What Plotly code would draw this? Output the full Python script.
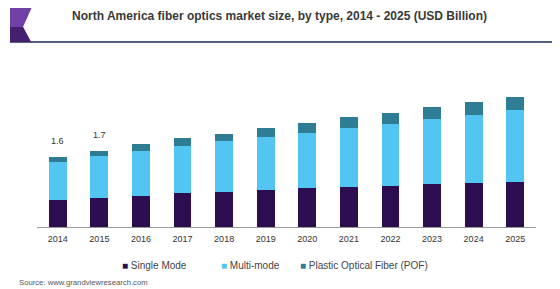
import plotly.graph_objects as go

years = ["2014", "2015", "2016", "2017", "2018", "2019", "2020", "2021", "2022", "2023", "2024", "2025"]
single_mode = [0.60, 0.64, 0.70, 0.75, 0.78, 0.82, 0.86, 0.90, 0.92, 0.95, 0.97, 1.01]
multi_mode = [0.84, 0.93, 0.99, 1.04, 1.13, 1.18, 1.22, 1.30, 1.38, 1.44, 1.53, 1.58]
pof = [0.11, 0.13, 0.15, 0.18, 0.16, 0.20, 0.24, 0.24, 0.24, 0.27, 0.27, 0.31]
label_years = ["2014", "2015"]
label_texts = ["1.6", "1.7"]

series_names = ["Single Mode", "Multi-mode", "Plastic Optical Fiber (POF)"]
colors = ["#2b0d50", "#52c5f2", "#2e7d94"]

# page has an 8px body margin; figure is sized/positioned to compensate
OFF = 8
W, H = 560 - OFF, 289 - OFF
plot_left, plot_right, plot_top, plot_bottom = 37, 536, 60, 227
ML = plot_left - OFF
MR = (W + OFF) - plot_right
MT = plot_top - OFF
MB = (H + OFF) - plot_bottom
plot_w = plot_right - plot_left
plot_h = plot_bottom - plot_top
y_max = plot_h / 45.0

fig = go.Figure()
for name, vals, col in zip(series_names, [single_mode, multi_mode, pof], colors):
    fig.add_trace(go.Bar(x=years, y=vals, name=name, marker=dict(color=col, line=dict(width=0)),
                         showlegend=False))

totals = [s + m + p for s, m, p in zip(single_mode, multi_mode, pof)]
annotations = []
for yr, txt in zip(label_years, label_texts):
    i = years.index(yr)
    annotations.append(dict(xref="x", yref="y", x=i, y=totals[i], text=txt, showarrow=False, yshift=16,
                            font=dict(family="Liberation Sans, Arial", size=9, color="#333333")))

def px_x(p):
    return (p - plot_left) / plot_w

def px_y(p):
    return (plot_bottom - p) / plot_h

# title
annotations.append(dict(xref="paper", yref="paper", x=px_x(279), y=px_y(16), xanchor="center", yanchor="middle",
                        text="<b>North America fiber optics market size, by type, 2014 - 2025 (USD Billion)</b>",
                        showarrow=False, font=dict(family="Liberation Sans, Arial", size=12, color="#3a3a3a")))
# manual legend
legend_pos = [120, 219, 298]
for x0, name, col in zip(legend_pos, series_names, colors):
    annotations.append(dict(xref="paper", yref="paper", x=px_x(x0), y=px_y(265), xanchor="left", yanchor="middle",
                            text='<span style="color:%s">■</span> %s' % (col, name), showarrow=False,
                            font=dict(family="Liberation Sans, Arial", size=10, color="#444444")))
# source
annotations.append(dict(xref="paper", yref="paper", x=px_x(17), y=px_y(282), xanchor="left", yanchor="middle",
                        text="Source: www.grandviewresearch.com", showarrow=False,
                        font=dict(family="Liberation Sans, Arial", size=7.7, color="#555555")))

logo = "M %f,%f L %f,%f L %f,%f L %f,%f L %f,%f Z" % (
    px_x(10), px_y(7), px_x(32), px_y(7), px_x(23), px_y(27), px_x(31), px_y(42), px_x(10), px_y(42))
logo_low = "M %f,%f L %f,%f L %f,%f L %f,%f Z" % (
    px_x(10), px_y(27), px_x(23), px_y(27), px_x(31), px_y(42), px_x(10), px_y(42))
shapes = [
    dict(type="line", xref="paper", yref="paper", x0=px_x(10), x1=px_x(560), y0=px_y(42), y1=px_y(42),
         line=dict(color="#55607f", width=2)),
    dict(type="path", xref="paper", yref="paper", path=logo, fillcolor="#7040a8", line=dict(width=0)),
    dict(type="path", xref="paper", yref="paper", path=logo_low, fillcolor="#45206f", line=dict(width=0)),
]

fig.update_layout(
    width=W, height=H, barmode="stack", bargap=0.57,
    margin=dict(l=ML, r=MR, t=MT, b=MB),
    paper_bgcolor="white", plot_bgcolor="white",
    xaxis=dict(type="category", range=[-0.5, len(years) - 0.5], autorange=False,
               showline=True, linecolor="#9a9a9a", linewidth=1, ticks="", ticklabelstandoff=3,
               tickfont=dict(family="Liberation Sans, Arial", size=9, color="#333333"), showgrid=False),
    yaxis=dict(visible=False, range=[0, y_max], autorange=False),
    annotations=annotations, shapes=shapes,
)
fig.write_html("out.html")
